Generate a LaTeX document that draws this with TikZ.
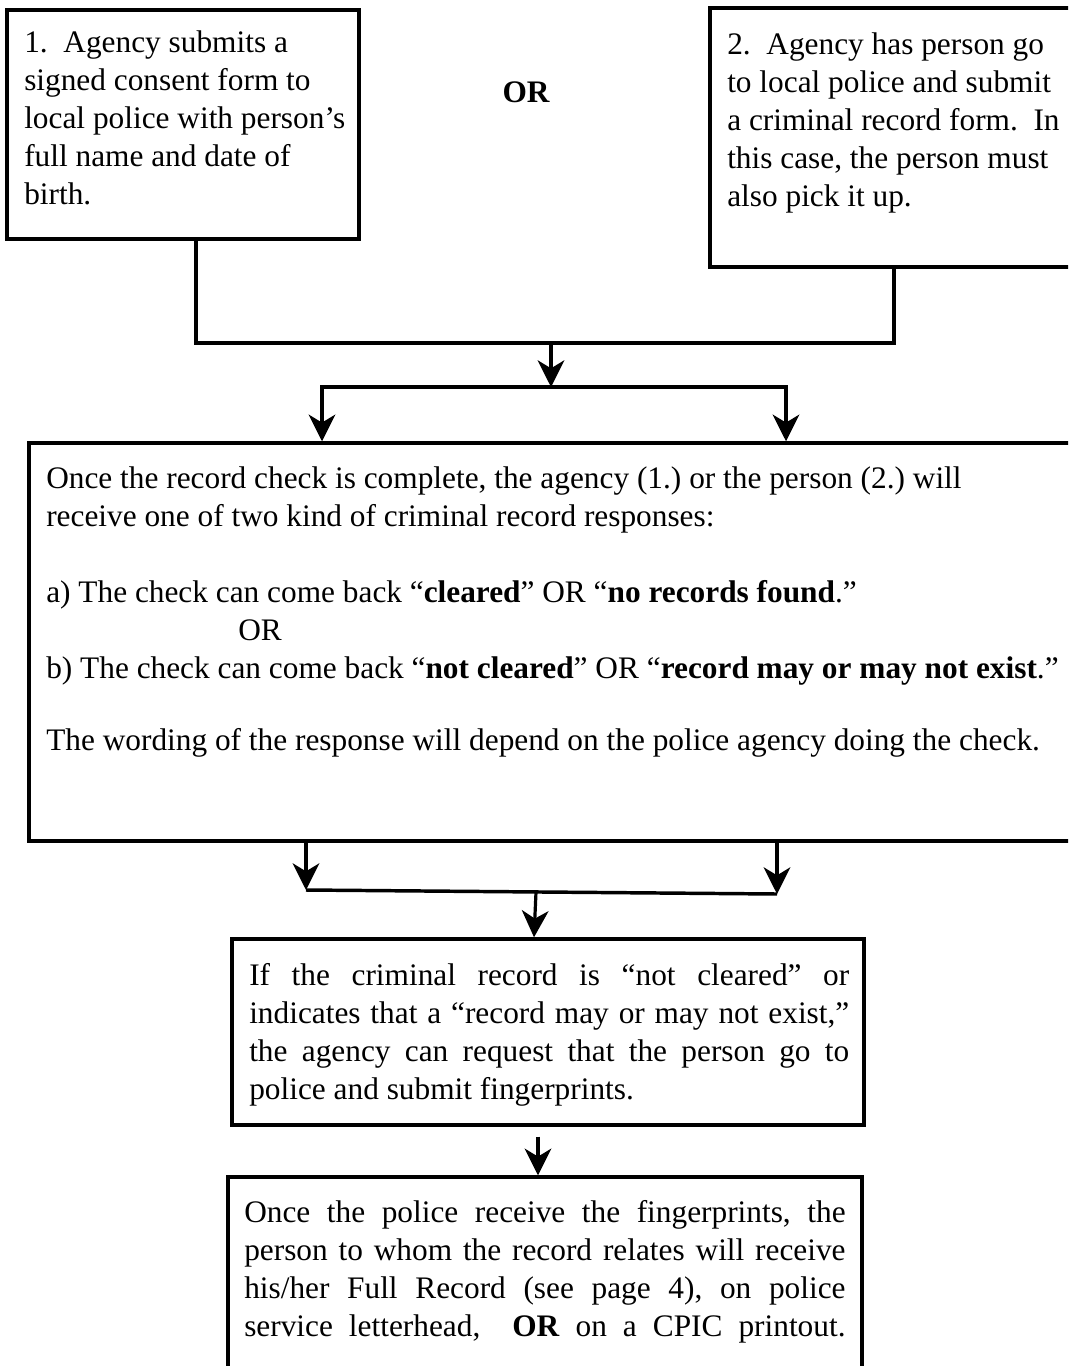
\documentclass[tikz,border=0pt]{standalone}
\usepackage{fontspec}
\setmainfont{Liberation Serif}
\usetikzlibrary{arrows.meta,calc,fit}
\frenchspacing
\begin{document}
\begin{tikzpicture}[x=0.75pt,y=-0.75pt,
  boxframe/.style={draw, line width=2.6pt, rectangle, inner sep=0pt},
  txt/.style={font=\fontsize{23.5}{28.5}\selectfont, inner sep=0pt, anchor=base west, align=flush left},
  jtxt/.style={txt, align=justify},
  link/.style={line width=2.6pt, line join=miter},
  arr/.style={line width=2.4pt, -{Stealth[length=20pt,width=20pt,inset=6pt]}},
  arrboth/.style={line width=2.4pt, line join=miter, {Stealth[length=20pt,width=20pt,inset=6pt]}-{Stealth[length=20pt,width=20pt,inset=6pt]}}
]
\useasboundingbox (0,0) rectangle (1068,1366);
\fill[white] (0,0) rectangle (1068,1366);
\clip (0,0) rectangle (1068,1366);

% boxes
\node[boxframe, fit={(7,10) (359,239)}] (b1) {};
\node[boxframe, fit={(710,8) (1085,267)}] (b2) {};
\node[boxframe, fit={(29,443) (1085,841)}] (bm) {};
\node[boxframe, fit={(232,939) (864,1125)}] (b3) {};
\node[boxframe, fit={(228,1177) (862,1390)}] (b4) {};

% texts
\node[txt, text width=258pt] (t1) at (24,53) {1.\ \ Agency submits a\\ signed consent form to\\ local police with person’s\\ full name and date of\\ birth.};
\node[txt, text width=300pt] (t2) at (727,55) {2.\ \ Agency has person go\\ to local police and submit\\ a criminal record form.\ \ In\\ this case, the person must\\ also pick it up.};
\node[txt, font=\fontsize{23.5}{28.5}\selectfont\bfseries, anchor=center] (or) at (526,92) {OR};
\node[txt, text width=790pt] (tm) at (46,488) {Once the record check is complete, the agency (1.) or the person (2.) will\\
receive one of two kind of criminal record responses:\\[28.5pt]
a) The check can come back “\textbf{cleared}” OR “\textbf{no records found}.”\\
\hspace*{144pt}OR\\
b) The check can come back “\textbf{not cleared}” OR “\textbf{record may or may not exist}.”\\[25.5pt]
The wording of the response will depend on the police agency doing the check.};
\node[jtxt, text width=450pt] (t3) at (249,985) {If the criminal record is “not cleared” or\linebreak
indicates that a “record may or may not exist,”\linebreak
the agency can request that the person go to\linebreak
police and submit fingerprints.};
\node[jtxt, text width=451pt] (t4) at (244,1222) {Once the police receive the fingerprints, the\linebreak
person to whom the record relates will receive\linebreak
his/her Full Record (see page 4), on police\linebreak
service letterhead,\ \ \textbf{OR} on a CPIC printout.\linebreak\mbox{}};

% junction points
\coordinate (j1) at (196,343);
\coordinate (j2) at (894,343);
\coordinate (m1) at (551,343);
\coordinate (m2) at (551,387);
\coordinate (k1) at (322,387);
\coordinate (k2) at (786,387);
\coordinate (p1) at (306,890);
\coordinate (p2) at (777,894);
\coordinate (q1) at (536,892);

% connectors
\draw[link] (b1.south -| j1) -- (j1) -- (j2) -- (b2.south -| j2);
\draw[arr] (m1) -- (m2);
\draw[arrboth] (k1 |- bm.north) -- (k1) -- (k2) -- (k2 |- bm.north);
\draw[arr] (bm.south -| p1) -- (p1);
\draw[arr] (bm.south -| p2) -- (p2);
\draw[link] (p1) -- (p2);
\draw[arr] (q1) -- ($(b3.north)+(-14,0)$);
\draw[arr] ($(b3.south)+(-10,10)$) -- ($(b4.north)+(-7,0)$);
\end{tikzpicture}
\end{document}
